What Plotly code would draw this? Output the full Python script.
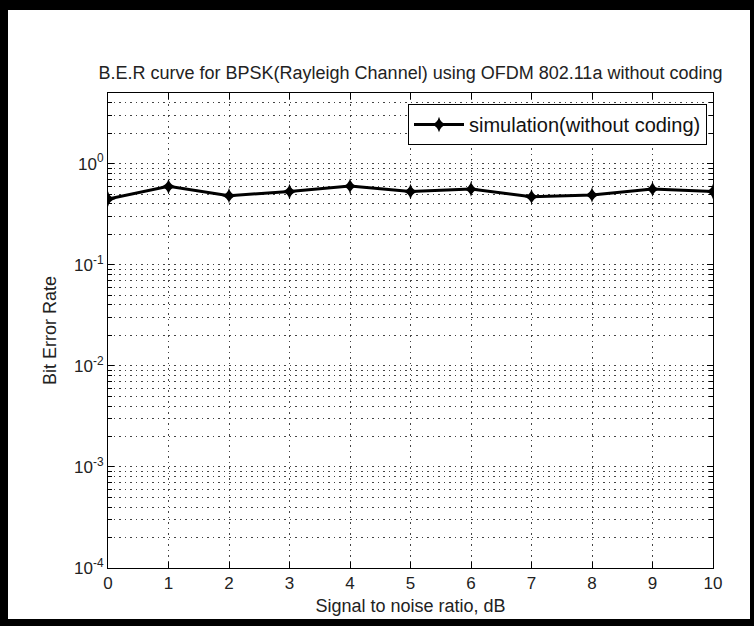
import plotly.graph_objects as go

# Data
snr_db = [0, 1, 2, 3, 4, 5, 6, 7, 8, 9, 10]
ber = [0.447, 0.596, 0.482, 0.53, 0.60, 0.53, 0.56, 0.47, 0.49, 0.56, 0.53]
series_name = "simulation(without coding)"
title_text = "B.E.R curve for BPSK(Rayleigh Channel) using OFDM 802.11a without coding"
x_title = "Signal to noise ratio, dB"
y_title = "Bit Error Rate"
y_major = [1e-4, 1e-3, 1e-2, 1e-1, 1]
y_major_text = ["10<sup>-4</sup>", "10<sup>-3</sup>", "10<sup>-2</sup>", "10<sup>-1</sup>", "10<sup>0</sup>"]

W, H = 754, 626
L, R, T, B = 108, 713, 93, 568
FONT = "Liberation Sans, Arial, sans-serif"

minor_vals = [m * 10 ** e for e in range(-4, 1) for m in range(2, 10) if m * 10 ** e < 5]

fig = go.Figure()
fig.add_trace(go.Scatter(
    x=snr_db, y=ber, mode="lines+markers", name=series_name,
    line=dict(color="black", width=3),
    marker=dict(symbol="star-diamond", size=11, color="black"),
))

def px_x(p):
    return (p - L) / (R - L)

def px_y(p):
    return (B - p) / (B - T)

frame = [
    (0, 0, W, 10),      # top
    (0, 0, 8, H),       # left
    (0, 619, W, H),     # bottom
    (750, 0, W, H),     # right
]
shapes = []
for x0, y0, x1, y1 in frame:
    shapes.append(dict(type="rect", xref="paper", yref="paper",
                       x0=px_x(x0), x1=px_x(x1), y0=px_y(y1), y1=px_y(y0),
                       fillcolor="black", line=dict(width=0), layer="above"))

grid_color = "#444444"
grid_dash = "1.5px,4px"
fig.update_layout(
    width=W, height=H,
    margin=dict(l=L, r=W - R, t=T, b=H - B),
    paper_bgcolor="white", plot_bgcolor="white",
    font=dict(family=FONT, size=17, color="#222222"),
    title=dict(text=title_text, x=(L + R) / 2 / W, xanchor="center",
               y=1 - 73 / H, yanchor="middle",
               font=dict(family=FONT, size=18, color="#222222")),
    showlegend=True,
    legend=dict(x=px_x(707), xanchor="right", y=px_y(104), yanchor="top",
                bgcolor="white", bordercolor="black", borderwidth=1,
                itemwidth=50,
                font=dict(family=FONT, size=20, color="#111111")),
    shapes=shapes,
)
fig.update_xaxes(
    range=[0, 10], tickmode="linear", tick0=0, dtick=1,
    showline=True, linecolor="black", linewidth=1, mirror="allticks",
    ticks="inside", ticklen=6, tickcolor="black",
    showgrid=True, gridcolor=grid_color, griddash=grid_dash, gridwidth=1,
    zeroline=False,
    tickfont=dict(family=FONT, size=17, color="#222222"),
    title=dict(text=x_title, standoff=6, font=dict(family=FONT, size=18, color="#222222")),
)
fig.update_yaxes(
    type="log", range=[-4, 0.699],
    tickmode="array", tickvals=y_major, ticktext=y_major_text,
    showline=True, linecolor="black", linewidth=1, mirror="allticks",
    ticks="inside", ticklen=6, tickcolor="black",
    showgrid=True, gridcolor=grid_color, griddash=grid_dash, gridwidth=1,
    zeroline=False,
    minor=dict(tickmode="array", tickvals=minor_vals, ticks="inside", ticklen=4,
               tickcolor="black", showgrid=True, gridcolor=grid_color,
               griddash=grid_dash, gridwidth=1),
    tickfont=dict(family=FONT, size=17, color="#222222"),
    title=dict(text=y_title, standoff=12, font=dict(family=FONT, size=18, color="#222222")),
)

fig.write_html("out.html")
